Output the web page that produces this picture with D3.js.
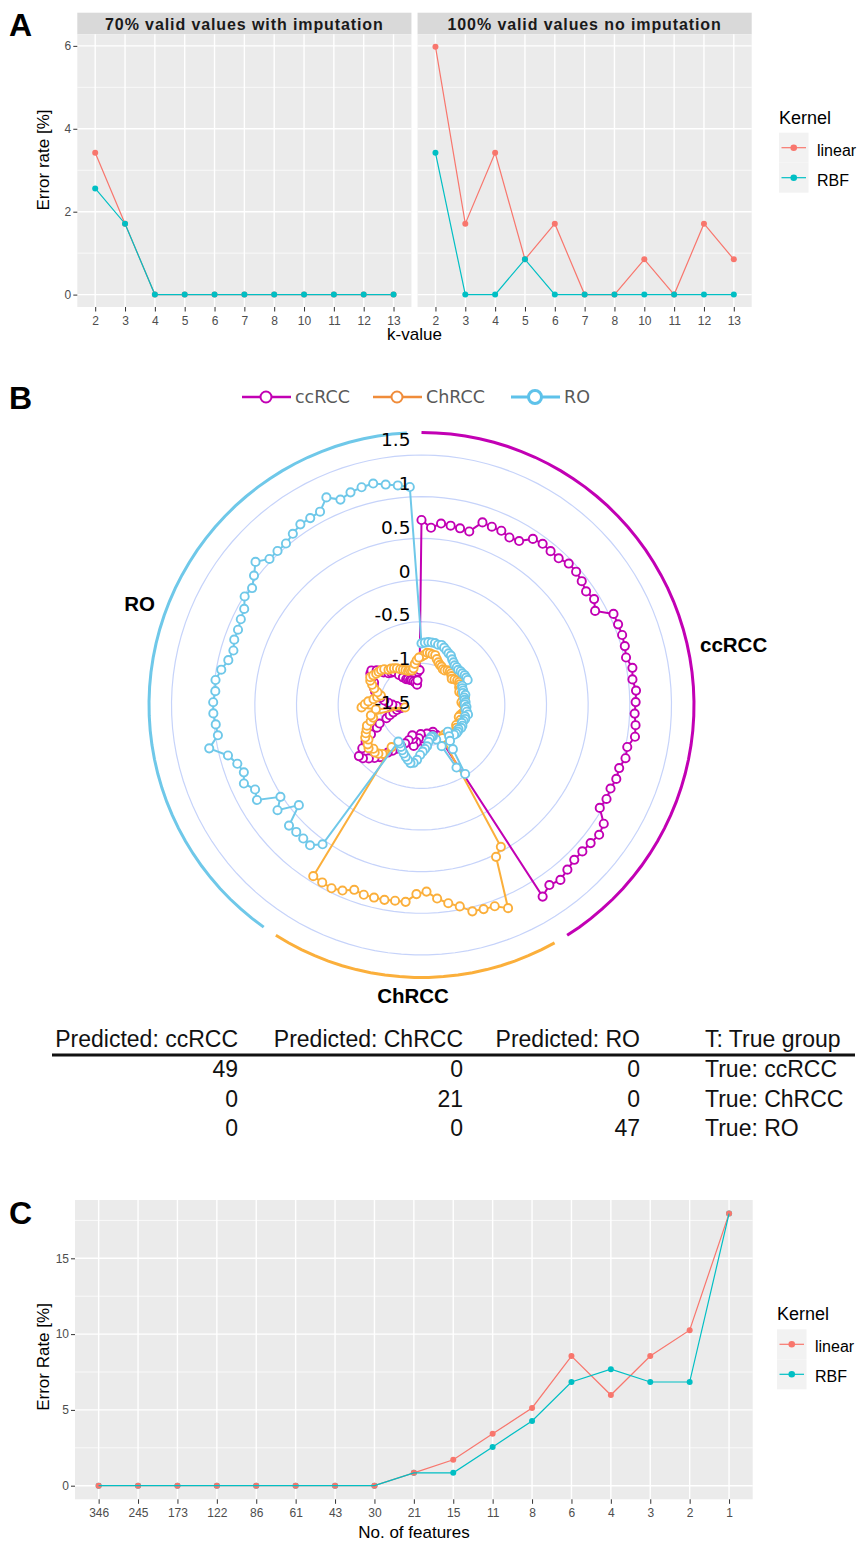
<!DOCTYPE html>
<html>
<head>
<meta charset="utf-8">
<script src="https://cdn.jsdelivr.net/npm/d3@7"></script>
<style>
  body { margin: 0; background: #fff; }
  svg { display: block; }
</style>
</head>
<body>
<svg id="fig" width="860" height="1546"></svg>
<script>
// ---------- panel A data: error rate per k
const kValues = ["2", "3", "4", "5", "6", "7", "8", "10", "11", "12", "13"]
const facetTitles = ["70% valid values with imputation", "100% valid values no imputation"]
const kernels = ["linear", "RBF"]
const linearImputed = [3.42, 1.71, 0, 0, 0, 0, 0, 0, 0, 0, 0]
const rbfImputed = [2.56, 1.71, 0, 0, 0, 0, 0, 0, 0, 0, 0]
const linearComplete = [5.98, 1.71, 3.42, 0.85, 1.71, 0, 0, 0.85, 0, 1.71, 0.85]
const rbfComplete = [3.42, 0, 0, 0.85, 0, 0, 0, 0, 0, 0, 0]
const ticksA = [0, 2, 4, 6]
const minorA = [1, 3, 5]

// ---------- panel B data: decision scores per sample (ccRCC, ChRCC, RO samples in order)
const groups = ["ccRCC", "ChRCC", "RO"]
const groupSizes = [49, 21, 47]
const ccrccScore = [
  0.72, 0.63, 0.69, 0.68, 0.67, 0.66, 0.81, 0.80, 0.80, 0.77,
  0.79, 0.90, 0.92, 0.91, 0.91, 0.95, 0.95, 0.93, 0.90, 0.93,
  0.87, 1.05, 1.05, 1.05, 1.04, 1.02, 1.07, 1.05, 1.08, 1.07,
  1.06, 1.08, 1.09, 1.02, 1.03, 0.99, 1.00, 0.98, 0.99, 0.97,
  1.11, 1.14, 1.12, 1.11, 1.11, 1.14, 1.18, 1.15, 1.22,
  -1.03, -1.10, -1.15, -1.12, -1.10, -1.12, -1.15, -1.08, -1.05, -1.10,
  -1.15, -1.10, -1.05, -1.00, -1.08, -1.12, -1.05, -1.00, -0.95, -0.90, -0.85,
  -0.80, -0.70, -0.65, -0.60, -0.55, -0.53, -0.62, -0.70, -0.80, -0.90,
  -0.95, -1.05, -1.10, -1.15, -1.20, -1.25, -1.22, -1.20, -1.15, -1.10,
  -1.05, -1.00, -0.95, -0.92, -0.90, -0.88, -0.87, -0.82, -0.78, -0.77,
  -0.82, -0.90, -0.95, -0.97, -0.98, -1.05, -1.10, -1.14, -1.15, -1.17,
  -1.18, -1.20, -1.22, -1.25, -1.20, -1.10, -1.08
]
const chrccScore = [
  -0.92, -0.90, -0.87, -0.87, -0.88, -0.88, -0.92, -0.95, -0.97, -0.98,
  -1.00, -1.00, -0.98, -0.97, -0.98, -1.00, -1.02, -1.00, -0.98, -0.97,
  -0.98, -1.00, -1.00, -1.02, -1.00, -0.98, -0.97, -1.00, -1.02, -1.00,
  -0.98, -0.97, -0.98, -1.00, -1.02, -1.03, -1.00, -0.98, -1.00, -1.02,
  -1.00, -0.98, -0.97, -0.98, -1.00, -1.02, -1.05, -1.05, -1.03,
  0.45, 0.53, 1.15, 1.07, 1.06, 1.05, 0.96, 0.90, 0.83, 0.74,
  0.77, 0.87, 0.87, 0.88, 0.88, 0.88, 0.86, 0.92, 0.95, 0.94, 0.93,
  -0.88, -0.75, -0.72, -0.70, -0.72, -0.68, -0.70, -0.74, -0.72, -0.75,
  -0.78, -0.80, -0.86, -0.90, -0.88, -1.30, -0.95, -0.78, -0.82, -0.86,
  -0.92, -0.96, -1.00, -0.95, -0.90, -0.86, -0.82, -0.80, -0.82, -0.84,
  -0.85, -0.86, -0.88, -0.92, -0.93, -0.95, -0.97, -1.00, -1.02, -1.04,
  -1.06, -1.06, -1.07, -1.05, -1.00, -0.96, -0.93
]
const roScore = [
  -0.76, -0.75, -0.74, -0.74, -0.74, -0.75, -0.74, -0.76, -0.78, -0.80,
  -0.81, -0.84, -0.86, -0.88, -0.88, -0.89, -0.88, -0.88, -0.87, -0.87,
  -0.87, -0.96, -0.97, -0.97, -0.98, -0.96, -0.98, -0.98, -0.97, -0.98,
  -0.96, -0.97, -0.95, -0.93, -0.96, -0.95, -0.96, -0.97, -0.95, -0.95,
  -0.97, -0.96, -0.96, -0.97, -1.05, -1.00, -0.95, -0.85, -0.52,
  -0.64, -0.95, -1.05, -1.10, -1.10, -1.08, -1.05, -1.00, -0.97, -0.94,
  -0.90, -0.84, -0.80, -0.79, -0.82, -0.85, -0.88, -0.91, -0.94, -0.97, -0.98,
  0.55, 0.65, 0.64, 0.64, 0.65, 0.40, 0.64, 0.52, 0.78, 0.74,
  0.83, 0.78, 0.82, 0.90, 1.10, 0.97, 0.98, 1.00, 1.00, 0.98,
  0.99, 0.94, 0.88, 0.85, 0.88, 0.88, 0.90, 0.92, 0.99, 0.97,
  1.04, 1.13, 1.03, 1.03, 1.03, 1.07, 1.11, 1.11, 1.12, 1.24,
  1.15, 1.19, 1.21, 1.22, 1.18, 1.15, 1.12
]
const ringTicks = [-1.5, -1, -0.5, 0, 0.5, 1, 1.5]
const bandLevel = 1.77

// confusion table
const tableHeader = ["Predicted: ccRCC", "Predicted: ChRCC", "Predicted: RO", "T: True group"]
const confusion = [[49, 0, 0], [0, 21, 0], [0, 0, 47]]
const trueLabels = ["True: ccRCC", "True: ChRCC", "True: RO"]

// ---------- panel C data: error rate vs number of features
const nFeatures = ["346", "245", "173", "122", "86", "61", "43", "30", "21", "15", "11", "8", "6", "4", "3", "2", "1"]
const linearByFeat = [0, 0, 0, 0, 0, 0, 0, 0, 0.85, 1.71, 3.42, 5.13, 8.55, 5.98, 8.55, 10.26, 17.95]
const rbfByFeat = [0, 0, 0, 0, 0, 0, 0, 0, 0.85, 0.85, 2.56, 4.27, 6.84, 7.69, 6.84, 6.84, 17.95]
const ticksC = [0, 5, 10, 15]
const minorC = [2.5, 7.5, 12.5, 17.5]

const FONT = '"Liberation Sans", Arial, sans-serif'
const XLFONT = '"DejaVu Sans", Verdana, sans-serif'

const svg = d3.select('#fig')
const kernelColor = d3.scaleOrdinal().domain(kernels).range(["#F8766D", "#00BFC4"])

function expand(lo, hi) {
  const s = (hi - lo) * 0.05
  return [lo - s, hi + s]
}

function panelLetter(txt, y) {
  svg.append('text').attr('x', 9).attr('y', y).text(txt)
    .style('font', 'bold 32px ' + FONT)
}

// ggplot-like panel background with grid
function ggPanel(g, x, y, major, minor) {
  const [x0, x1] = x.range()
  const [y1, y0] = y.range()
  g.append('rect').attr('x', x0).attr('y', y0).attr('width', x1 - x0).attr('height', y1 - y0)
    .attr('fill', '#EBEBEB')
  g.selectAll('line.minor').data(minor).join('line').attr('class', 'minor')
    .attr('x1', x0).attr('x2', x1).attr('y1', d => y(d)).attr('y2', d => y(d))
    .attr('stroke', '#fff').attr('stroke-width', 0.7)
  g.selectAll('line.majy').data(major).join('line').attr('class', 'majy')
    .attr('x1', x0).attr('x2', x1).attr('y1', d => y(d)).attr('y2', d => y(d))
    .attr('stroke', '#fff').attr('stroke-width', 1.4)
  g.selectAll('line.majx').data(x.domain()).join('line').attr('class', 'majx')
    .attr('x1', d => x(d)).attr('x2', d => x(d)).attr('y1', y0).attr('y2', y1)
    .attr('stroke', '#fff').attr('stroke-width', 1.4)
}

function styleAxis(a) {
  a.select('.domain').remove()
  a.selectAll('line').attr('stroke', '#333').attr('stroke-width', 1)
  a.selectAll('text').attr('fill', '#4D4D4D').style('font', '12px ' + FONT)
}

function ggLine(g, x, y, cats, vals, color) {
  g.append('path').datum(vals)
    .attr('d', d3.line().x((d, i) => x(cats[i])).y(d => y(d)))
    .attr('fill', 'none').attr('stroke', color).attr('stroke-width', 1.2)
}

function ggPoints(g, x, y, cats, vals, color) {
  g.append('g').selectAll('circle').data(vals).join('circle')
    .attr('cx', (d, i) => x(cats[i])).attr('cy', d => y(d)).attr('r', 3)
    .attr('fill', color)
}

function kernelLegend(x, titleBase, keyTop) {
  const g = svg.append('g')
  g.append('text').attr('x', x).attr('y', titleBase).text('Kernel').style('font', '18px ' + FONT)
  kernels.forEach((k, i) => {
    const top = keyTop + i * 30
    const cy = top + 15
    g.append('rect').attr('x', x).attr('y', top).attr('width', 29.5).attr('height', 30).attr('fill', '#F2F2F2')
    g.append('line').attr('x1', x + 2.5).attr('x2', x + 27).attr('y1', cy).attr('y2', cy)
      .attr('stroke', kernelColor(k)).attr('stroke-width', 1.2)
    g.append('circle').attr('cx', x + 14.75).attr('cy', cy).attr('r', 3.3).attr('fill', kernelColor(k))
    g.append('text').attr('x', x + 38).attr('y', cy).attr('dy', '0.5em').text(k)
      .style('font', '16px ' + FONT)
  })
}

// =============== PANEL A ===============
panelLetter('A', 36)
const facetSeries = [
  { linear: linearImputed, RBF: rbfImputed },
  { linear: linearComplete, RBF: rbfComplete }
]
const facetX = d3.scaleBand().domain(facetTitles).range([77.3, 751.7]).paddingInner(0.018)
const yA = d3.scaleLinear()
  .domain(expand(0, d3.max([...linearImputed, ...rbfImputed, ...linearComplete, ...rbfComplete])))
  .range([307, 34.3])

facetTitles.forEach((title, fi) => {
  const x0 = facetX(title)
  const xA = d3.scalePoint().domain(kValues).range([x0, x0 + facetX.bandwidth()]).padding(0.6)
  const g = svg.append('g')
  // strip
  g.append('rect').attr('x', x0).attr('y', 12.7).attr('width', facetX.bandwidth()).attr('height', 21.6)
    .attr('fill', '#D9D9D9')
  g.append('text').attr('x', x0 + facetX.bandwidth() / 2).attr('y', 29.5).attr('text-anchor', 'middle')
    .text(title).attr('fill', '#1A1A1A').style('font', 'bold 16px ' + FONT).style('letter-spacing', '0.9px')
  ggPanel(g, xA, yA, ticksA, minorA)
  kernels.forEach(k => ggLine(g, xA, yA, kValues, facetSeries[fi][k], kernelColor(k)))
  kernels.forEach(k => ggPoints(g, xA, yA, kValues, facetSeries[fi][k], kernelColor(k)))
  const ax = g.append('g').attr('transform', 'translate(0,307)')
    .call(d3.axisBottom(xA).tickSize(4.5).tickPadding(5))
  styleAxis(ax)
  if (fi === 0) {
    const ay = g.append('g').attr('transform', `translate(${x0},0)`)
      .call(d3.axisLeft(yA).tickValues(ticksA).tickSize(4).tickPadding(2).tickFormat(d3.format('d')))
    styleAxis(ay)
  }
})
svg.append('text').attr('transform', 'translate(49,160) rotate(-90)').attr('text-anchor', 'middle')
  .text('Error rate [%]').style('font', '17px ' + FONT)
svg.append('text').attr('x', 414.5).attr('y', 340).attr('text-anchor', 'middle')
  .text('k-value').style('font', '17px ' + FONT)
kernelLegend(779, 124, 132.7)

// =============== PANEL B (radar) ===============
panelLetter('B', 409)
const groupColor = d3.scaleOrdinal().domain(groups).range(["#C200B4", "#FBAF3B", "#6FC8E9"])
const legendColor = d3.scaleOrdinal().domain(groups).range(["#C200B4", "#F08C3A", "#5EC2EA"])
const nSamples = d3.sum(groupSizes)
const angle = d3.scaleLinear().domain([0, nSamples]).range([0, 2 * Math.PI])
const rScale = d3.scaleLinear().domain([-1.5, 1.5]).range([0, 250])
const sampleIdx = d3.range(nSamples)
const scores = { ccRCC: ccrccScore, ChRCC: chrccScore, RO: roScore }
const starts = d3.cumsum([0, ...groupSizes])

const radar = svg.append('g').attr('transform', 'translate(421.5,705)')

// rings
radar.selectAll('path.ring').data(ringTicks.filter(v => rScale(v) > 0)).join('path')
  .attr('class', 'ring')
  .attr('d', v => d3.lineRadial().angle(i => angle(i)).radius(rScale(v)).curve(d3.curveLinearClosed)(sampleIdx))
  .attr('fill', 'none').attr('stroke', '#C6D3FA').attr('stroke-width', 1.2)

// group bands around the outside
groups.forEach((grp, gi) => {
  const idx = d3.range(starts[gi], starts[gi] + groupSizes[gi])
  radar.append('path')
    .attr('d', d3.lineRadial().angle(i => angle(i)).radius(rScale(bandLevel))(idx))
    .attr('fill', 'none').attr('stroke', groupColor(grp)).attr('stroke-width', 3)
})

// series
groups.forEach(grp => {
  const vals = scores[grp]
  radar.append('path')
    .attr('d', d3.lineRadial().angle((d, i) => angle(i)).radius(d => rScale(d)).curve(d3.curveLinearClosed)(vals))
    .attr('fill', 'none').attr('stroke', groupColor(grp)).attr('stroke-width', 2)
  radar.append('g').selectAll('circle').data(vals).join('circle')
    .attr('cx', (d, i) => d3.pointRadial(angle(i), rScale(d))[0])
    .attr('cy', (d, i) => d3.pointRadial(angle(i), rScale(d))[1])
    .attr('r', 4.1).attr('fill', '#fff').attr('stroke', groupColor(grp)).attr('stroke-width', 1.9)
})

// radial axis labels (plain hyphen minus, as in the original)
radar.selectAll('text.tick').data(ringTicks).join('text').attr('class', 'tick')
  .attr('x', -11).attr('y', v => -(rScale(v) * 1.049 + 3)).attr('dy', '0.36em')
  .attr('text-anchor', 'end').text(v => String(v))
  .style('font', '18.5px ' + XLFONT).attr('fill', '#000')

// group labels
const groupLabelPos = { ccRCC: [700, 652, 'start'], ChRCC: [413, 1003, 'middle'], RO: [155, 611, 'end'] }
groups.forEach(grp => {
  const [lx, ly, anchor] = groupLabelPos[grp]
  svg.append('text').attr('x', lx).attr('y', ly).attr('text-anchor', anchor).text(grp)
    .style('font', 'bold 20.5px ' + FONT)
})

// legend
const legendX = d3.scaleOrdinal().domain(groups).range([242, 373, 511])
groups.forEach(grp => {
  const lx = legendX(grp)
  const big = grp === 'RO'
  svg.append('line').attr('x1', lx).attr('x2', lx + 49).attr('y1', 397).attr('y2', 397)
    .attr('stroke', legendColor(grp)).attr('stroke-width', big ? 3 : 2.5)
  svg.append('circle').attr('cx', lx + 24).attr('cy', 397).attr('r', big ? 6.5 : 5.5)
    .attr('fill', '#fff').attr('stroke', legendColor(grp)).attr('stroke-width', big ? 3 : 2)
  svg.append('text').attr('x', lx + 53).attr('y', 397).attr('dy', '0.36em').text(grp)
    .style('font', '17.5px ' + XLFONT).attr('fill', '#595959')
})

// confusion table
const colX = [238, 463, 640, 705]
const colAnchor = ['end', 'end', 'end', 'start']
const table = svg.append('g').style('font', '23px ' + FONT).attr('fill', '#111')
tableHeader.forEach((h, j) => {
  table.append('text').attr('x', colX[j]).attr('y', 1047).attr('text-anchor', colAnchor[j]).text(h)
})
table.append('line').attr('x1', 52).attr('x2', 855).attr('y1', 1055).attr('y2', 1055)
  .attr('stroke', '#111').attr('stroke-width', 3)
confusion.forEach((row, i) => {
  const by = 1077 + i * 29.5
  row.forEach((v, j) => {
    table.append('text').attr('x', colX[j]).attr('y', by).attr('text-anchor', 'end').text(v)
  })
  table.append('text').attr('x', colX[3]).attr('y', by).text(trueLabels[i])
})

// =============== PANEL C ===============
panelLetter('C', 1224)
const xC = d3.scalePoint().domain(nFeatures).range([75, 752.7]).padding(0.6)
const yC = d3.scaleLinear().domain(expand(0, d3.max([...linearByFeat, ...rbfByFeat]))).range([1499.3, 1200])
const gC = svg.append('g')
ggPanel(gC, xC, yC, ticksC, minorC)
const byKernel = { linear: linearByFeat, RBF: rbfByFeat }
ggPoints(gC, xC, yC, nFeatures, rbfByFeat, kernelColor('RBF'))
ggPoints(gC, xC, yC, nFeatures, linearByFeat, kernelColor('linear'))
kernels.forEach(k => ggLine(gC, xC, yC, nFeatures, byKernel[k], kernelColor(k)))
styleAxis(gC.append('g').attr('transform', 'translate(0,1499.3)')
  .call(d3.axisBottom(xC).tickSize(4.5).tickPadding(5)))
styleAxis(gC.append('g').attr('transform', 'translate(75,0)')
  .call(d3.axisLeft(yC).tickValues(ticksC).tickSize(4).tickPadding(2).tickFormat(d3.format('d'))))
svg.append('text').attr('transform', 'translate(49,1357) rotate(-90)').attr('text-anchor', 'middle')
  .text('Error Rate [%]').style('font', '17px ' + FONT)
svg.append('text').attr('x', 414).attr('y', 1538).attr('text-anchor', 'middle')
  .text('No. of features').style('font', '17px ' + FONT)
kernelLegend(777, 1320, 1329.3)
</script>
</body>
</html>
